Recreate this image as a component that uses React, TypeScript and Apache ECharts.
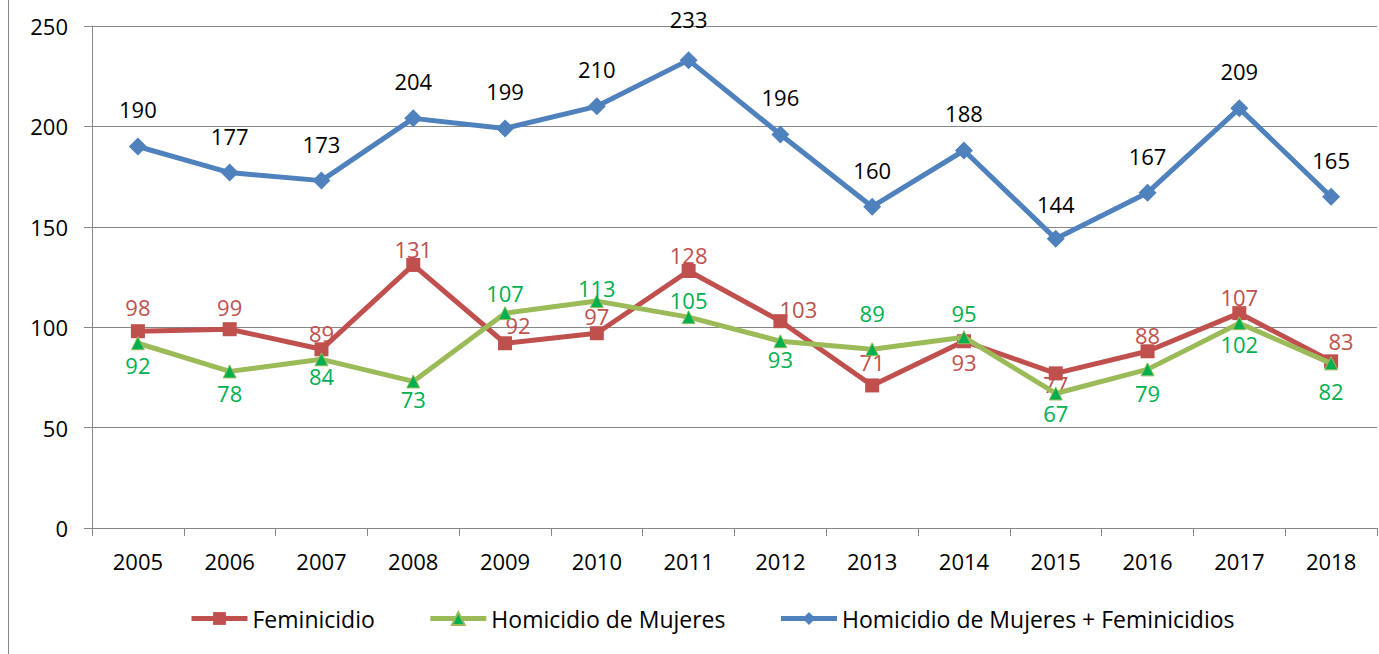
import React, { useEffect, useRef } from "react";
import * as echarts from "echarts";

const years = ["2005", "2006", "2007", "2008", "2009", "2010", "2011", "2012", "2013", "2014", "2015", "2016", "2017", "2018"];
const feminicidio = [98, 99, 89, 131, 92, 97, 128, 103, 71, 93, 77, 88, 107, 83];
const homicidio = [92, 78, 84, 73, 107, 113, 105, 93, 89, 95, 67, 79, 102, 82];
const total = [190, 177, 173, 204, 199, 210, 233, 196, 160, 188, 144, 167, 209, 165];

const redLabelPos = ["top", "top", "top", "top", "top", "top", "top", "top", "top", "bottom", "bottom", "top", "top", "top"];
const redLabelOffset = [[0, 0], [0, 2], [0, 8], [0, 8], [13, 6], [0, 7], [0, 8], [18, 12], [0, 1], [0, -3], [0, -13], [0, 8], [0, 8], [10, 4]];
const greenLabelPos = ["bottom", "bottom", "bottom", "bottom", "top", "top", "top", "bottom", "top", "top", "bottom", "bottom", "bottom", "bottom"];
const greenLabelOffset = [[0, -2], [0, -2], [0, -7], [0, -6], [0, 4], [0, 11], [0, 7], [0, -6], [0, -12], [0, 0], [0, -4], [0, 0], [0, -3], [0, 4]];
const blueLabelOffset = [[0, 0], [0, 0], [0, 0], [0, 0], [0, 0], [0, 0], [0, -4], [0, 0], [0, 0], [0, 0], [0, 2], [0, 0], [0, 0], [0, 0]];

const FONT = "'Open Sans', sans-serif";

export default function App() {
  const ref = useRef<HTMLDivElement>(null);
  useEffect(() => {
    document.body.style.margin = "0";
    const chart = echarts.init(ref.current!, null, { renderer: "svg" });
    const grey = "#868686";
    chart.setOption({
      animation: false,
      textStyle: { fontFamily: FONT },
      grid: { left: 92, right: 2, top: 26, bottom: 126, containLabel: false },
      graphic: [
        { type: "line", shape: { x1: 8.5, y1: 0, x2: 8.5, y2: 654 }, style: { stroke: grey, lineWidth: 1 } },
      ],
      legend: {
        top: 602,
        left: 184,
        itemWidth: 56,
        itemHeight: 16,
        itemGap: 53,
        lineStyle: { width: 5 },
        textStyle: { fontSize: 23, color: "#000", fontFamily: FONT },
        data: ["Feminicidio", "Homicidio de Mujeres", "Homicidio de Mujeres + Feminicidios"],
      },
      xAxis: {
        type: "category",
        data: years,
        boundaryGap: true,
        axisLine: { lineStyle: { color: grey, width: 1 } },
        axisTick: { show: true, length: 8, lineStyle: { color: grey } },
        axisLabel: { color: "#000", fontSize: 22, margin: 22, fontFamily: FONT },
      },
      yAxis: {
        type: "value",
        min: 0,
        max: 250,
        interval: 50,
        axisLine: { show: true, lineStyle: { color: grey, width: 1 } },
        axisTick: { show: true, length: 8, lineStyle: { color: grey } },
        axisLabel: { color: "#000", fontSize: 22, margin: 24, fontFamily: FONT },
        splitLine: { show: true, lineStyle: { color: grey, width: 1 } },
      },
      series: [
        {
          name: "Feminicidio",
          type: "line",
          data: feminicidio.map((v, i) => ({
            value: v,
            label: { position: redLabelPos[i], offset: redLabelOffset[i] },
          })),
          symbol: "rect",
          symbolSize: 14,
          lineStyle: { color: "#C0504D", width: 5 },
          itemStyle: { color: "#C0504D" },
          label: { show: true, color: "#C0504D", fontSize: 22, distance: 6, fontFamily: FONT },
          z: 3,
        },
        {
          name: "Homicidio de Mujeres",
          type: "line",
          data: homicidio.map((v, i) => ({
            value: v,
            label: { position: greenLabelPos[i], offset: greenLabelOffset[i] },
          })),
          symbol: "triangle",
          symbolSize: 13,
          lineStyle: { color: "#9BBB59", width: 5 },
          itemStyle: { color: "#00B050", borderColor: "#9BBB59", borderWidth: 1 },
          label: { show: true, color: "#00B050", fontSize: 22, distance: 6, fontFamily: FONT },
          z: 4,
        },
        {
          name: "Homicidio de Mujeres + Feminicidios",
          type: "line",
          data: total.map((v, i) => ({
            value: v,
            label: { offset: blueLabelOffset[i] },
          })),
          symbol: "diamond",
          symbolSize: 18,
          lineStyle: { color: "#4F81BD", width: 5 },
          itemStyle: { color: "#4F81BD" },
          label: { show: true, position: "top", color: "#000", fontSize: 22, distance: 17, fontFamily: FONT },
          z: 5,
        },
      ],
    });
    return () => chart.dispose();
  }, []);
  return <div ref={ref} style={{ width: 1379, height: 654 }} />;
}
